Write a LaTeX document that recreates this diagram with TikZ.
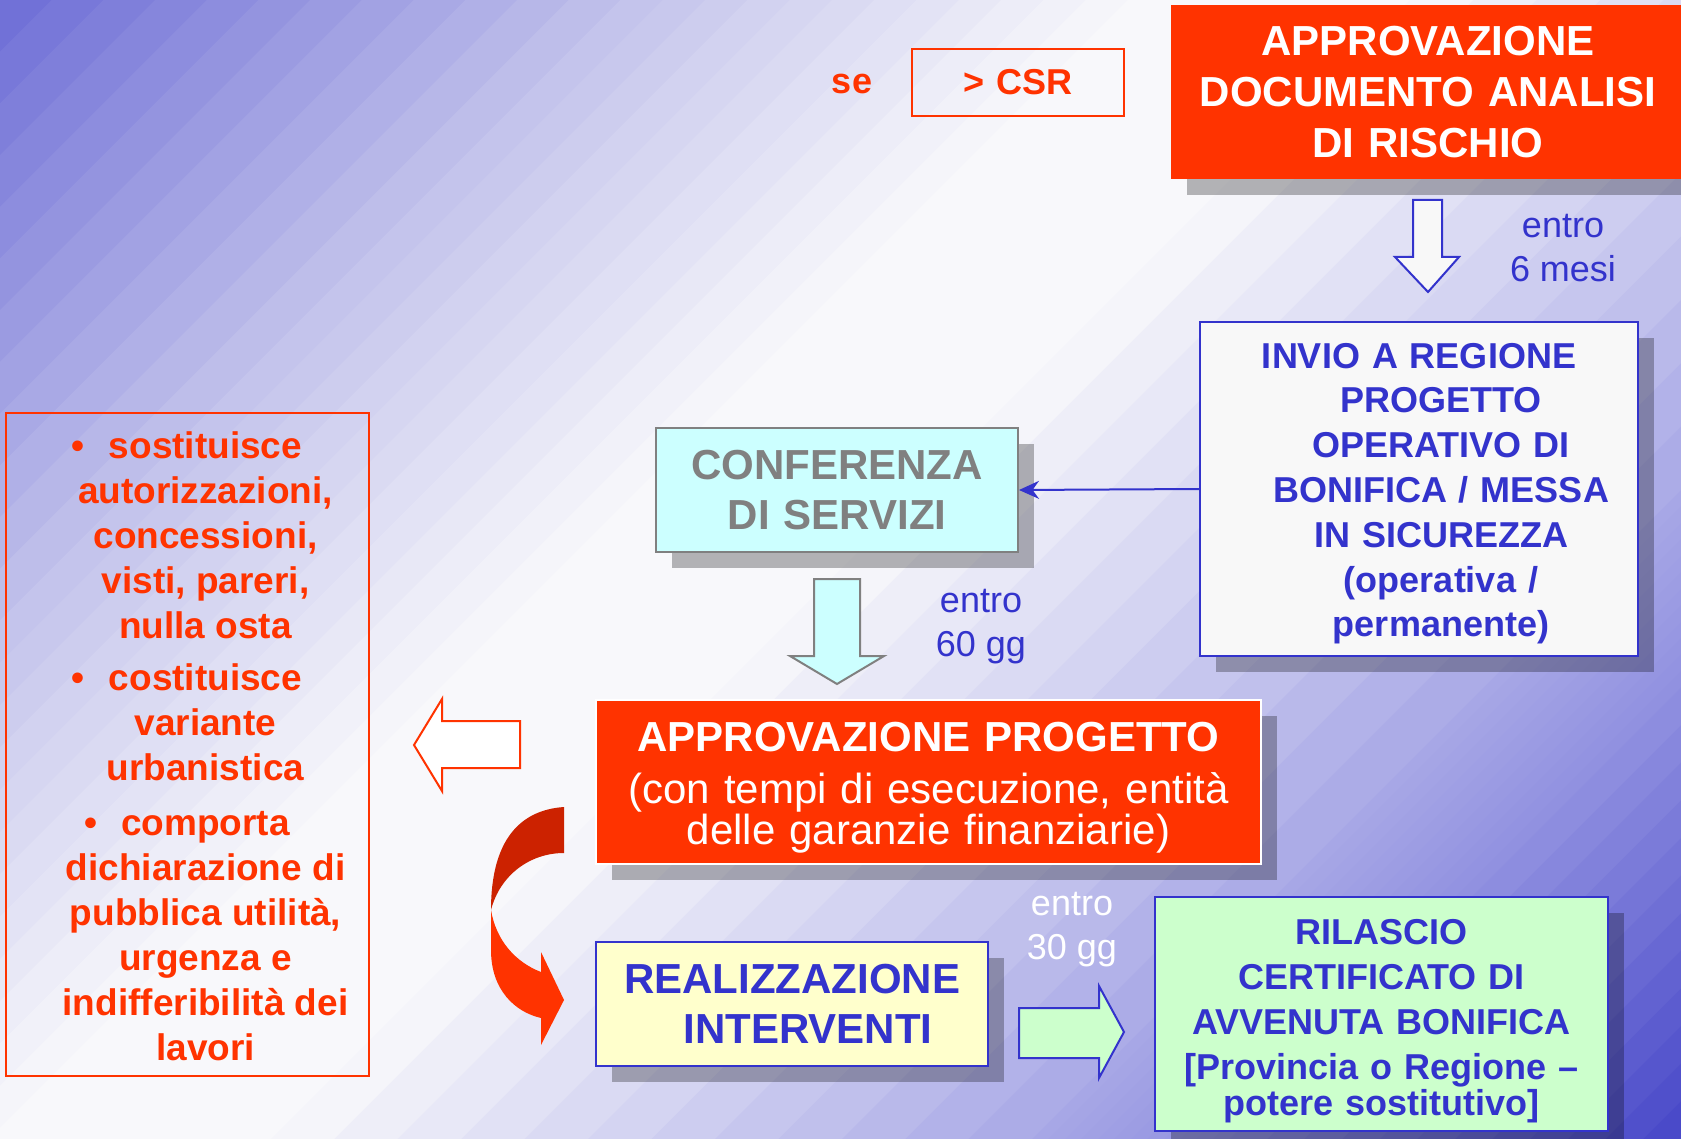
\documentclass[tikz,border=0pt]{standalone}
\usepackage{fontspec}
\setmainfont{Liberation Sans}
\usetikzlibrary{shadows,arrows.meta}

\definecolor{redorange}{HTML}{FF3300}
\definecolor{darkred}{HTML}{CC2200}
\definecolor{txtblue}{HTML}{3333CC}
\definecolor{txtgrey}{HTML}{808080}
\definecolor{cyanfill}{HTML}{CCFFFF}
\definecolor{yellowfill}{HTML}{FFFFCC}
\definecolor{greenfill}{HTML}{CCFFCC}
\definecolor{paperfill}{HTML}{F8F8F8}
% background stops, top left to bottom right
\definecolor{bga}{HTML}{6E6ED6}
\definecolor{bgb}{HTML}{C2C2EB}
\definecolor{bgc}{HTML}{F8F8FB}
\definecolor{bgd}{HTML}{A8A8E6}
\definecolor{bge}{HTML}{9090E0}
\definecolor{bgf}{HTML}{4646C8}

\tikzset{
  box/.style={align=center, inner sep=0pt, line width=1pt},
  shadowed/.style={drop shadow={shadow xshift=8pt, shadow yshift=-8pt, fill=black, opacity=0.28}},
  lbl/.style={align=center, inner sep=0pt, font=\fontsize{18}{22}\selectfont},
}

\begin{document}
\begin{tikzpicture}[x=0.5pt,y=-0.5pt]
\useasboundingbox (0,0) rectangle (1681,1139);

% background bands
\begin{scope}
\clip (0,0) rectangle (1681,1139);
\foreach \ta/\tb/\ca/\cb in {0/0.22/bga/bgb, 0.22/0.40/bgb/bgc, 0.40/0.50/bgc/bgc,
    0.50/0.77/bgc/bgd, 0.77/0.84/bgd/bge, 0.84/1/bge/bgf}{
  \foreach \k in {0,...,11}{
    \pgfmathsetmacro\pa{(\ta+(\tb-\ta)*\k/12)*2820}
    \pgfmathsetmacro\pb{(\ta+(\tb-\ta)*(\k+1)/12)*2820+1.5}
    \pgfmathtruncatemacro\pct{(\k+0.5)*100/12}
    \fill[fill=\cb!\pct!\ca] (\pa,0) -- (\pb,0) -- ({\pb-1139},1139) -- ({\pa-1139},1139) -- cycle;
  }
}
\end{scope}

% top row
\node[box, shadowed, fill=redorange, text=white, text width=257pt, minimum height=87pt,
  font=\bfseries\fontsize{21}{25.7}\selectfont] (doc) at (1428,92) {APPROVAZIONE\\DOCUMENTO ANALISI\\DI RISCHIO};
\node[box, draw=redorange, text=redorange, text width=106pt, minimum height=33.5pt,
  font=\bfseries\fontsize{18}{22}\selectfont] (csr) at (1018,82.5) {> CSR};
\node[lbl, text=redorange, font=\bfseries\fontsize{18}{22}\selectfont] (se) at (852,84) {se};

% right column
\draw[txtblue, line width=1pt, fill=paperfill] (1413,200) -- (1442,200) -- (1442,257) -- (1459,257)
  -- (1428,292) -- (1395,257) -- (1413,257) -- cycle;
\node[lbl, text=txtblue] (mesi) at (1563,248) {entro\\6 mesi};
\node[box, shadowed, draw=txtblue, fill=paperfill, text=txtblue, text width=219pt, minimum height=167pt,
  font=\bfseries\fontsize{18}{22.4}\selectfont] (invio) at (1419,489)
  {\rule{0pt}{17.2pt}INVIO A REGIONE\\\hspace*{22pt}PROGETTO\\\hspace*{22pt}OPERATIVO DI\\\hspace*{22pt}BONIFICA / MESSA\\
   \hspace*{22pt}IN SICUREZZA\\\hspace*{22pt}(operativa /\\\hspace*{22pt}permanente)};

% centre column
\node[box, shadowed, draw=txtgrey, fill=cyanfill, text=txtgrey, text width=181pt, minimum height=62pt,
  font=\bfseries\fontsize{21}{25}\selectfont] (conf) at (837,490) {CONFERENZA\\DI SERVIZI};
\draw[txtblue, line width=1pt, -{Stealth[length=10pt,width=9pt]}] (invio.west) -- (conf.east);

\draw[txtgrey, line width=1pt, fill=cyanfill] (814,579) -- (860,579) -- (860,656) -- (884,656)
  -- (837,684) -- (790,656) -- (814,656) -- cycle;
\node[lbl, text=txtblue] (gg60) at (981,627) {entro\\60 gg};

\node[box, shadowed, draw=white, fill=redorange, text=white, text width=332.5pt, minimum height=82pt,
  font=\fontsize{21}{20.5}\selectfont] (prog) at (928.5,782)
  {\rule{0pt}{20pt}\textbf{APPROVAZIONE PROGETTO}\\[5.5pt](con tempi di esecuzione, entità\\delle garanzie finanziarie)};

% left list
\draw[redorange, line width=1pt, fill=white] (520,721) -- (442,721) -- (442,699) -- (414,745)
  -- (442,791) -- (442,768) -- (520,768) -- cycle;
\node[box, draw=redorange, minimum width=181.5pt, minimum height=331.5pt] (effetti) at (187.5,744.5) {};
\node[box, text=redorange, font=\bfseries\fontsize{18.5}{22.5}\selectfont] (effettitxt) at ([xshift=9pt,yshift=-1.1pt]effetti.center)
  {\llap{\textbullet\hspace{12pt}}sostituisce\\autorizzazioni,\\concessioni,\\visti, pareri,\\nulla osta\\[3.5pt]
   \llap{\textbullet\hspace{12pt}}costituisce\\variante\\urbanistica\\[5pt]
   \llap{\textbullet\hspace{12pt}}comporta\\dichiarazione di\\pubblica utilità,\\urgenza e\\indifferibilità dei\\lavori};

% curved arrow
\fill[darkred] (564,807) .. controls (520,810) and (491,840) .. (491,910)
  .. controls (500,875) and (530,853) .. (564,853) -- cycle;
\fill[redorange] (491,910) -- (491,950) .. controls (491,990) and (515,1012) .. (541,1018)
  -- (541,1045) -- (564,1000) -- (541,952) -- (541,972)
  .. controls (515,962) and (496,940) .. (491,910) -- cycle;

% bottom row
\node[box, shadowed, draw=txtblue, fill=yellowfill, text=txtblue, text width=196pt, minimum height=62pt,
  font=\bfseries\fontsize{21}{25}\selectfont] (real) at (792,1004) {REALIZZAZIONE\\\hspace*{16pt}INTERVENTI};
\node[lbl, text=white] (gg30) at (1072,930) {entro\\30 gg};
\draw[txtblue, line width=1pt, fill=greenfill] (1019,1008) -- (1099,1008) -- (1099,986) -- (1124,1032)
  -- (1099,1078) -- (1099,1058) -- (1019,1058) -- cycle;
\node[box, shadowed, draw=txtblue, fill=greenfill, text=txtblue, text width=226.5pt, minimum height=117pt,
  font=\bfseries\fontsize{18}{22.5}\selectfont] (ril) at (1381.5,1014)
  {\rule{0pt}{19.3pt}RILASCIO\\CERTIFICATO DI\\AVVENUTA BONIFICA\\{[}Provincia o Regione –\\[-4.5pt]potere sostitutivo{]}};

\end{tikzpicture}
\end{document}
